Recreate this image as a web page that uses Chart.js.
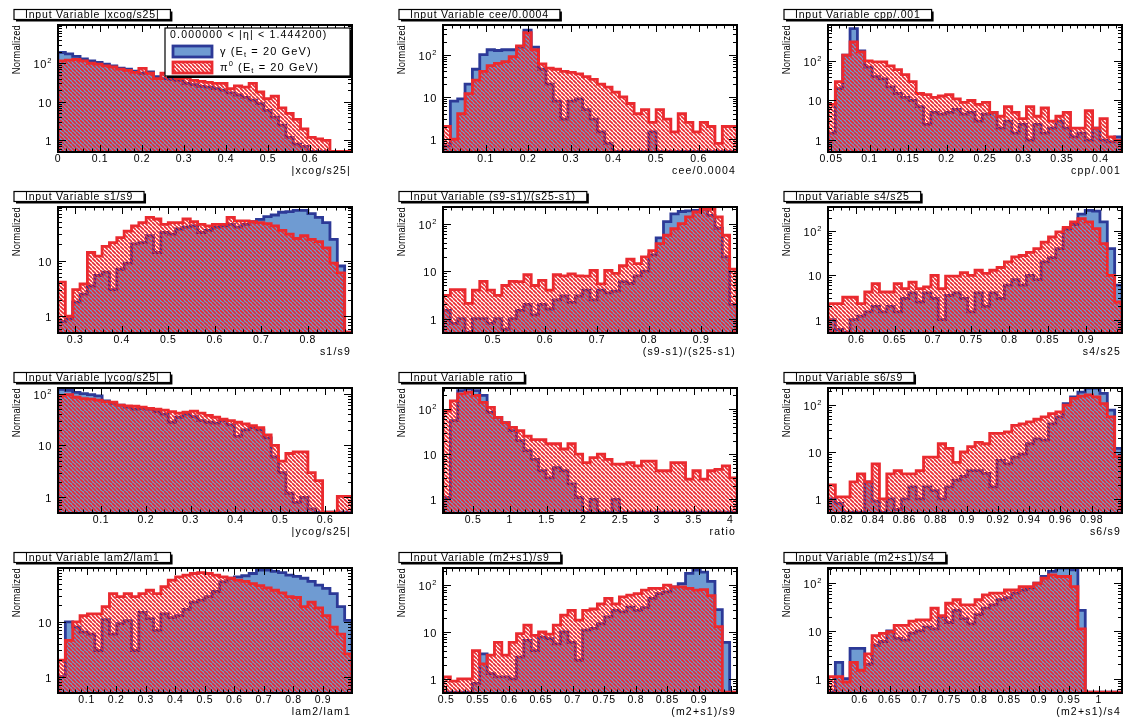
<!DOCTYPE html>
<html>
<head>
<meta charset="utf-8">
<script src="https://cdn.jsdelivr.net/npm/chart.js@4.4.0/dist/chart.umd.min.js"></script>
<style>
  html, body { margin: 0; padding: 0; background: #ffffff; }
  body { width: 1126px; height: 719px; position: relative; overflow: hidden; }
  canvas { position: absolute; }
</style>
</head>
<body>
<script>
// ---------------------------------------------------------------------------
// Input-variable distributions, photon (γ) vs neutral pion (π0), 40 bins each.
// Every histogram: x range, major tick values, y range, γ bins, π0 bins.
// ---------------------------------------------------------------------------

// |xcog/s25|
const xcogRange = [0, 0.7];
const xcogTicks = [0, 0.1, 0.2, 0.3, 0.4, 0.5, 0.6];
const xcogY = [0.5, 980];
const xcogGamma = [190, 175, 150, 130, 115, 105, 95, 85, 75, 70, 62, 55, 60, 45, 40, 38, 36, 30, 28, 25, 24, 22, 20, 17, 15, 13, 11, 9, 6, 4, 2.5, 1.2, 0.8, 0.7, 0, 0, 0, 0, 0, 0];
const xcogPi0 = [115, 120, 125, 115, 100, 95, 85, 80, 70, 65, 58, 74, 55, 40, 55, 48, 40, 42, 36, 34, 32, 30, 30, 22, 26, 24, 30, 18, 12, 14, 7, 5, 3.5, 2, 1.2, 1.1, 1.0, 0, 0, 0];

// cee/0.0004
const ceeRange = [0, 0.69];
const ceeTicks = [0.1, 0.2, 0.3, 0.4, 0.5, 0.6];
const ceeY = [0.5, 500];
const ceeGamma = [0.7, 8, 9, 20, 45, 100, 130, 125, 130, 130, 150, 380, 150, 45, 20, 8, 3, 8, 9, 5, 3, 1.5, 0.8, 0, 0, 0, 0, 0, 1.5, 0, 0, 0, 0, 0, 0, 0, 0, 0, 0, 0];
const ceePi0 = [2, 1, 4, 12, 25, 40, 55, 62, 68, 90, 160, 330, 130, 60, 48, 45, 40, 38, 35, 30, 26, 20, 17, 13, 10, 7, 4, 5, 2.5, 5, 3, 1.5, 4, 2.5, 1.5, 2.5, 2, 0.8, 2, 2];

// cpp/.001
const cppRange = [0.046, 0.428];
const cppTicks = [0.05, 0.1, 0.15, 0.2, 0.25, 0.3, 0.35, 0.4];
const cppY = [0.5, 807];
const cppGamma = [1.5, 20, 140, 650, 180, 70, 40, 35, 22, 15, 12, 10, 7, 2.5, 5, 4.5, 5, 6, 4.5, 5, 3, 4.5, 5, 2, 3, 1.5, 2.5, 1, 2.5, 1.5, 2, 3, 2, 1.2, 1.5, 1, 2, 1, 0.9, 1.2];
const cppPi0 = [8, 30, 140, 300, 170, 100, 95, 95, 75, 60, 45, 30, 15, 14, 12, 13, 14, 11, 9, 10, 8, 9, 5, 4, 7, 5, 3.5, 7, 4, 6.5, 3, 4, 5, 2, 2, 5.5, 2, 3.5, 1.2, 1];

// s1/s9
const s1s9Range = [0.263, 0.895];
const s1s9Ticks = [0.3, 0.4, 0.5, 0.6, 0.7, 0.8];
const s1s9Y = [0.5, 92];
const s1s9Gamma = [0.8, 0.9, 1.8, 2.5, 3.5, 5.4, 6.2, 3, 7, 9, 20, 21, 28, 14, 32, 30, 37, 40, 42, 32, 35, 40, 42, 45, 40, 45, 50, 55, 62, 66, 74, 76, 80, 80, 70, 60, 48, 24, 8, 0];
const s1s9Pi0 = [4.1, 1.0, 3.0, 3.8, 14, 12, 18, 21, 26, 34, 42, 48, 60, 56, 45, 48, 48, 56, 50, 45, 42, 45, 45, 60, 52, 52, 50, 48, 46, 42, 35, 30, 25, 28, 24, 22, 17, 9, 6, 0];

// (s9-s1)/(s25-s1)
const s9s25Range = [0.404, 0.969];
const s9s25Ticks = [0.5, 0.6, 0.7, 0.8, 0.9];
const s9s25Y = [0.5, 224];
const s9s25Gamma = [1.5, 0.8, 1, 0, 1, 1, 0.8, 1, 0.6, 1, 1.5, 2, 1.2, 2, 1.6, 2.5, 3, 2.2, 3, 4, 2.5, 4, 3.5, 3.8, 6, 5.5, 8, 10, 22, 50, 110, 160, 180, 185, 190, 200, 150, 80, 20, 2];
const s9s25Pi0 = [3.1, 4.1, 4.1, 2.1, 4, 6.1, 4, 3.1, 5, 6.1, 6, 8.4, 5, 6.4, 4, 8.4, 8, 8.8, 8, 7.9, 10.4, 5.4, 10.4, 9, 13, 18, 14.4, 20, 27, 38, 57, 78, 100, 138, 176, 200, 200, 138, 57, 11];

// s4/s25
const s4s25Range = [0.563, 0.947];
const s4s25Ticks = [0.6, 0.65, 0.7, 0.75, 0.8, 0.85, 0.9];
const s4s25Y = [0.5, 347];
const s4s25Gamma = [1, 0.6, 0, 1, 1.2, 1.5, 2, 1.5, 2, 1.5, 3, 4, 2.5, 4, 3, 1, 3.5, 4, 3, 1.5, 4, 2, 4, 3, 6, 8, 6, 10, 8, 20, 25, 40, 110, 140, 240, 290, 280, 160, 40, 6];
const s4s25Pi0 = [2.3, 2.3, 3.2, 3.2, 2.3, 4.2, 6.5, 4.2, 4.2, 6.5, 5, 7, 5, 5.5, 10, 5, 9.6, 9.6, 11.5, 10, 13, 11, 13, 15, 20, 26, 28, 33, 40, 56, 73, 95, 120, 160, 190, 160, 113, 52, 10, 2.5];

// |ycog/s25|
const ycogRange = [0.004, 0.66];
const ycogTicks = [0.1, 0.2, 0.3, 0.4, 0.5, 0.6];
const ycogY = [0.5, 128];
const ycogGamma = [120, 115, 105, 100, 95, 90, 72, 65, 60, 55, 50, 52, 50, 45, 40, 28, 35, 40, 36, 30, 28, 27, 30, 25, 15, 20, 22, 20, 14, 6, 3, 1.2, 0.8, 1, 0.6, 0, 0, 0, 0, 0];
const ycogPi0 = [90, 95, 85, 80, 78, 75, 70, 68, 60, 58, 57, 55, 52, 50, 48, 45, 42, 44, 46, 42, 38, 35, 32, 30, 28, 26, 24, 22, 16, 10, 5, 7, 7.5, 7.5, 3, 2.1, 0, 0, 1.05, 1.05];

// ratio
const ratioRange = [0.09, 4.09];
const ratioTicks = [0.5, 1, 1.5, 2, 2.5, 3, 3.5, 4];
const ratioY = [0.5, 290];
const ratioGamma = [1.1, 55, 255, 280, 255, 200, 84, 65, 50, 33, 20, 12, 7.7, 4.3, 3, 5, 4.3, 2.2, 1.1, 0, 1, 0, 0, 1, 0, 0, 0, 0, 0, 0, 0, 0, 0, 0, 0, 0, 0, 0, 0, 0];
const ratioPi0 = [90, 150, 215, 235, 200, 140, 108, 65, 50, 39, 33, 25, 21, 21, 17, 17, 13, 17, 10, 6.5, 8.4, 10, 7.7, 6, 6, 6.5, 5.5, 7, 7, 4.3, 4.3, 6.5, 6.5, 2.8, 4.3, 2.8, 4.3, 4.6, 5.5, 3];

// s6/s9
const s6s9Range = [0.811, 0.9995];
const s6s9Ticks = [0.82, 0.84, 0.86, 0.88, 0.9, 0.92, 0.94, 0.96, 0.98];
const s6s9Y = [0.5, 232];
const s6s9Gamma = [1, 0.8, 0, 0, 0, 2.3, 0.9, 0, 1, 0.6, 1, 1.8, 1, 1.8, 1.5, 1, 1.8, 2.5, 3, 4, 4, 3.5, 1.8, 6.6, 5.6, 7.8, 9, 15, 19, 18, 40, 56, 108, 150, 190, 230, 230, 178, 78, 12];
const s6s9Pi0 = [2, 1.1, 1.1, 2.3, 3.4, 2.3, 5.6, 1, 3.4, 4, 3.4, 3.4, 4, 7.8, 7.8, 15, 12, 6, 10, 13, 16, 15, 25, 25, 27, 37, 40, 44, 50, 56, 66, 72, 100, 140, 155, 165, 150, 108, 56, 8];

// lam2/lam1
const lamRange = [0.003, 0.998];
const lamTicks = [0.1, 0.2, 0.3, 0.4, 0.5, 0.6, 0.7, 0.8, 0.9];
const lamY = [0.5, 97];
const lamGamma = [1, 10, 8, 6.5, 6, 3, 11, 6, 9.3, 10.5, 3, 15, 11.5, 7, 14, 12, 13, 17, 23, 25, 29, 36, 54, 63, 67, 70, 77, 89, 89, 84, 80, 72, 68, 63, 55, 47, 41, 33, 19, 10.7];
const lamPi0 = [2, 4.6, 10, 13, 14, 14, 19, 33, 29, 33, 29, 33, 38, 33, 44, 58, 67, 72, 77, 80, 77, 72, 67, 63, 58, 55, 50, 46, 42, 38, 34, 29, 28, 19, 23, 18, 13, 8, 6, 2.6];

// (m2+s1)/s9
const m2s9Range = [0.495, 0.96];
const m2s9Ticks = [0.5, 0.55, 0.6, 0.65, 0.7, 0.75, 0.8, 0.85, 0.9];
const m2s9Y = [0.5, 232];
const m2s9Gamma = [0, 0, 0, 0, 0.8, 3.4, 1.3, 1.1, 1.1, 1, 2.9, 6.6, 4, 7.8, 7.2, 5.6, 10, 6, 2.5, 11, 12, 15, 21, 29, 27, 34, 29, 33, 52, 66, 72, 92, 108, 178, 210, 190, 120, 30, 6, 0];
const m2s9Pi0 = [1.1, 0.9, 1, 1, 4, 2.1, 3.2, 6, 3.2, 6, 9.2, 14, 8.5, 10, 9, 14, 23, 29, 18, 29, 31, 40, 52, 40, 56, 61, 66, 78, 85, 85, 100, 92, 92, 85, 78, 80, 60, 13, 0, 0];

// (m2+s1)/s4
const m2s4Range = [0.547, 1.039];
const m2s4Ticks = [0.6, 0.65, 0.7, 0.75, 0.8, 0.85, 0.9, 0.95, 1];
const m2s4Y = [0.5, 208];
const m2s4Gamma = [0, 2.2, 1, 4.3, 4.3, 2, 5, 6, 10, 7, 6.4, 9, 10, 12, 11, 20, 15, 27, 18, 14, 22, 30, 35, 45, 50, 62, 72, 80, 100, 138, 176, 207, 207, 190, 27, 0, 0, 0, 0, 0];
const m2s4Pi0 = [1.1, 1.1, 0.85, 2.2, 1.5, 3.3, 8, 8.9, 9.6, 13, 13, 16, 17, 17, 30, 21, 38, 45, 35, 35, 45, 57, 62, 62, 72, 72, 85, 85, 100, 127, 150, 138, 138, 85, 11, 0, 0, 0, 0, 0];

// ---------------------------------------------------------------------------
// Panel list, built from the arrays above (row-major, 3 columns x 4 rows)
// ---------------------------------------------------------------------------
const panels = [
  { name: '|xcog/s25|',        range: xcogRange,  ticks: xcogTicks,  y: xcogY,  gamma: xcogGamma,  pi0: xcogPi0 },
  { name: 'cee/0.0004',        range: ceeRange,   ticks: ceeTicks,   y: ceeY,   gamma: ceeGamma,   pi0: ceePi0 },
  { name: 'cpp/.001',          range: cppRange,   ticks: cppTicks,   y: cppY,   gamma: cppGamma,   pi0: cppPi0 },
  { name: 's1/s9',             range: s1s9Range,  ticks: s1s9Ticks,  y: s1s9Y,  gamma: s1s9Gamma,  pi0: s1s9Pi0 },
  { name: '(s9-s1)/(s25-s1)',  range: s9s25Range, ticks: s9s25Ticks, y: s9s25Y, gamma: s9s25Gamma, pi0: s9s25Pi0 },
  { name: 's4/s25',            range: s4s25Range, ticks: s4s25Ticks, y: s4s25Y, gamma: s4s25Gamma, pi0: s4s25Pi0 },
  { name: '|ycog/s25|',        range: ycogRange,  ticks: ycogTicks,  y: ycogY,  gamma: ycogGamma,  pi0: ycogPi0 },
  { name: 'ratio',             range: ratioRange, ticks: ratioTicks, y: ratioY, gamma: ratioGamma, pi0: ratioPi0 },
  { name: 's6/s9',             range: s6s9Range,  ticks: s6s9Ticks,  y: s6s9Y,  gamma: s6s9Gamma,  pi0: s6s9Pi0 },
  { name: 'lam2/lam1',         range: lamRange,   ticks: lamTicks,   y: lamY,   gamma: lamGamma,   pi0: lamPi0 },
  { name: '(m2+s1)/s9',        range: m2s9Range,  ticks: m2s9Ticks,  y: m2s9Y,  gamma: m2s9Gamma,  pi0: m2s9Pi0 },
  { name: '(m2+s1)/s4',        range: m2s4Range,  ticks: m2s4Ticks,  y: m2s4Y,  gamma: m2s4Gamma,  pi0: m2s4Pi0 }
];

// ---------------------------------------------------------------------------
// Layout and style
// ---------------------------------------------------------------------------
const PLOT_LEFT = [58, 443, 828];
const PLOT_TOP = [25, 207, 388, 568];
const PLOT_W = 294;
const PLOT_H = [127, 126, 125, 125];
const PAD = { left: 58, top: 25, right: 8, bottom: 30 };

const FAMILY = '"Liberation Sans", Arial, Helvetica, sans-serif';
const font = px => px + 'px ' + FAMILY;

const BLUE_FILL = '#6f9bd2';
const BLUE_LINE = '#2c3997';
const RED = '#ea2a2f';

function makeHatch(color) {
  const s = 4;
  const c = document.createElement('canvas');
  c.width = s; c.height = s;
  const g = c.getContext('2d');
  g.strokeStyle = color;
  g.lineWidth = 1.7;
  g.beginPath();
  for (let k = -1; k <= 1; k++) { g.moveTo(k * s, 0); g.lineTo(k * s + s, s); }
  g.stroke();
  return g.createPattern(c, 'repeat');
}
const HATCH = makeHatch(RED);

// Histogram outline: a flat segment over every bin, joined by verticals.
// Empty bins sit on the lower edge of the axis, as the outline runs along it.
function stepPoints(values, range, floor) {
  const n = values.length;
  const edge = i => (i >= n ? range[1] : range[0] + (range[1] - range[0]) * i / n);
  const pts = [{ x: range[0], y: floor }];
  values.forEach((v, i) => {
    const y = Math.max(v, floor);
    pts.push({ x: edge(i), y });
    pts.push({ x: edge(i + 1), y });
  });
  pts.push({ x: range[1], y: floor });
  return pts;
}

function spaced(ctx, spacing) {
  if ('letterSpacing' in ctx) ctx.letterSpacing = spacing + 'px';
}

function boxWithShadow(ctx, x, y, w, h) {
  ctx.fillStyle = '#000';
  ctx.fillRect(x + 2, y + 2, w, h);
  ctx.fillStyle = '#fff';
  ctx.fillRect(x, y, w, h);
  ctx.strokeStyle = '#000';
  ctx.lineWidth = 1.2;
  ctx.strokeRect(x, y, w, h);
}

function decorPlugin(panel, index) {
  return {
    id: 'decor' + index,
    afterDatasetsDraw(chart) {
      const ctx = chart.ctx;
      const ca = chart.chartArea;
      const xs = chart.scales.x;
      const ys = chart.scales.y;
      ctx.save();

      // frame
      ctx.strokeStyle = '#000';
      ctx.lineWidth = 2;
      ctx.strokeRect(ca.left, ca.top, ca.right - ca.left, ca.bottom - ca.top);

      // y ticks (log): decades and 2..9 sub-ticks, on both sides
      ctx.lineWidth = 1;
      ctx.beginPath();
      const [ymin, ymax] = panel.y;
      const decades = [];
      for (let e = Math.floor(Math.log10(ymin)); e <= Math.ceil(Math.log10(ymax)); e++) {
        for (let m = 1; m <= 9; m++) {
          const v = m * Math.pow(10, e);
          if (v <= ymin || v >= ymax) continue;
          const py = Math.round(ys.getPixelForValue(v)) + 0.5;
          const len = m === 1 ? 8 : 4;
          ctx.moveTo(ca.left, py); ctx.lineTo(ca.left + len, py);
          ctx.moveTo(ca.right, py); ctx.lineTo(ca.right - len, py);
          if (m === 1) decades.push([v, e, py]);
        }
      }
      // x ticks: majors at the labelled values, five sub-divisions between them
      const step = panel.ticks[1] - panel.ticks[0];
      const sub = step / 5;
      const start = panel.ticks[0] - Math.floor((panel.ticks[0] - panel.range[0]) / sub) * sub;
      for (let v = start; v <= panel.range[1] + 1e-9; v += sub) {
        const k = Math.round((v - panel.ticks[0]) / sub);
        const major = k % 5 === 0;
        const px = Math.round(xs.getPixelForValue(v)) + 0.5;
        const len = major ? 7 : 3.5;
        ctx.moveTo(px, ca.bottom); ctx.lineTo(px, ca.bottom - len);
        ctx.moveTo(px, ca.top); ctx.lineTo(px, ca.top + len);
      }
      ctx.stroke();

      ctx.fillStyle = '#000';
      // y labels
      decades.forEach(([v, e, py]) => {
        const xr = ca.left - 6;
        ctx.textBaseline = 'middle';
        spaced(ctx, 0.7);
        if (e < 2) {
          ctx.font = font(11);
          ctx.textAlign = 'right';
          ctx.fillText(String(v), xr, py + 1);
        } else {
          ctx.font = font(7.5);
          ctx.textAlign = 'right';
          ctx.fillText(String(e), xr, py - 3);
          const sw = ctx.measureText(String(e)).width;
          ctx.font = font(11);
          ctx.fillText('10', xr - sw, py + 1);
        }
      });

      // x labels
      ctx.font = font(10.5);
      spaced(ctx, 0.7);
      ctx.textAlign = 'center';
      ctx.textBaseline = 'middle';
      panel.ticks.forEach(v => {
        ctx.fillText(String(v), xs.getPixelForValue(v), ca.bottom + 7);
      });

      // x title
      ctx.font = font(10.5);
      spaced(ctx, 1.2);
      ctx.textAlign = 'right';
      ctx.fillText(panel.name, ca.right - 1, ca.bottom + 19);

      // y title (tall, narrow lettering)
      ctx.save();
      ctx.translate(ca.left - 41, ca.top);
      ctx.rotate(-Math.PI / 2);
      ctx.scale(0.82, 1);
      ctx.font = font(11.5);
      spaced(ctx, 0.2);
      ctx.textAlign = 'right';
      ctx.textBaseline = 'middle';
      ctx.fillText('Normalized', 0, 0);
      ctx.restore();

      // title box
      const title = 'Input Variable ' + panel.name;
      ctx.font = font(10.5);
      spaced(ctx, 0.8);
      const tw = ctx.measureText(title).width;
      const bx = ca.left - 44, by = ca.top - 15.5;
      boxWithShadow(ctx, bx, by, tw + 22, 10);
      ctx.fillStyle = '#000';
      ctx.textAlign = 'left';
      ctx.textBaseline = 'middle';
      ctx.fillText(title, bx + 11, by + 5.5);

      if (index === 0) drawLegend(ctx, ca);
      ctx.restore();
    }
  };
}

function drawSub(ctx, parts, x, y) {
  // parts: [text, kind] with kind '' | 'sub' | 'sup'
  parts.forEach(([t, kind]) => {
    if (kind) {
      ctx.font = font(7.5);
      ctx.fillText(t, x, y + (kind === 'sub' ? 3 : -4));
    } else {
      ctx.font = font(11);
      ctx.fillText(t, x, y);
    }
    x += ctx.measureText(t).width;
  });
}

function drawLegend(ctx, ca) {
  const lx = ca.left + 107, ly = ca.top + 3, lw = ca.right - 2 - lx, lh = 48;
  boxWithShadow(ctx, lx, ly, lw, lh);
  ctx.fillStyle = '#000';
  ctx.textAlign = 'left';
  ctx.textBaseline = 'middle';
  ctx.font = font(10.5);
  spaced(ctx, 1.2);
  ctx.fillText('0.000000 < |\u03b7| < 1.444200)', lx + 5, ly + 7);

  // γ swatch
  ctx.fillStyle = BLUE_FILL;
  ctx.fillRect(lx + 8, ly + 18, 39, 11);
  ctx.strokeStyle = BLUE_LINE;
  ctx.lineWidth = 2.8;
  ctx.strokeRect(lx + 8, ly + 18, 39, 11);
  // π0 swatch
  ctx.fillStyle = '#fff';
  ctx.fillRect(lx + 8, ly + 34, 39, 11);
  ctx.fillStyle = HATCH;
  ctx.fillRect(lx + 8, ly + 34, 39, 11);
  ctx.strokeStyle = RED;
  ctx.strokeRect(lx + 8, ly + 34, 39, 11);

  ctx.fillStyle = '#000';
  spaced(ctx, 1.1);
  drawSub(ctx, [['\u03b3 (E', ''], ['t', 'sub'], [' = 20 GeV)', '']], lx + 55, ly + 23.5);
  drawSub(ctx, [['\u03c0', ''], ['0', 'sup'], [' (E', ''], ['t', 'sub'], [' = 20 GeV)', '']], lx + 55, ly + 39.5);
}

// ---------------------------------------------------------------------------
// Build the twelve charts
// ---------------------------------------------------------------------------
panels.forEach((p, i) => {
  const col = i % 3, row = Math.floor(i / 3);
  const canvas = document.createElement('canvas');
  const w = PAD.left + PLOT_W + PAD.right;
  const h = PAD.top + PLOT_H[row] + PAD.bottom;
  canvas.width = w; canvas.height = h;
  canvas.style.width = w + 'px'; canvas.style.height = h + 'px';
  canvas.style.left = (PLOT_LEFT[col] - PAD.left) + 'px';
  canvas.style.top = (PLOT_TOP[row] - PAD.top) + 'px';
  document.body.appendChild(canvas);

  // empty bins are drawn just above the lower edge so their outline shows
  const floor = p.y[0] * 1.04;
  new Chart(canvas, {
    type: 'line',
    data: {
      datasets: [
        {
          label: '\u03c0\u2070 (E\u209c = 20 GeV)',
          data: stepPoints(p.pi0, p.range, floor),
          borderColor: RED,
          backgroundColor: HATCH,
          borderWidth: 2.8,
          fill: 'start',
          pointRadius: 0,
          tension: 0,
          order: 0,
          clip: 0
        },
        {
          label: '\u03b3 (E\u209c = 20 GeV)',
          data: stepPoints(p.gamma, p.range, floor),
          borderColor: BLUE_LINE,
          backgroundColor: BLUE_FILL,
          borderWidth: 2.8,
          fill: 'start',
          pointRadius: 0,
          tension: 0,
          order: 1,
          clip: 0
        }
      ]
    },
    options: {
      responsive: false,
      animation: false,
      devicePixelRatio: 1,
      layout: { padding: PAD },
      plugins: { legend: { display: false }, tooltip: { enabled: false } },
      scales: {
        x: { type: 'linear', bounds: 'data', min: p.range[0], max: p.range[1], display: false },
        y: { type: 'logarithmic', min: p.y[0], max: p.y[1], display: false }
      }
    },
    plugins: [decorPlugin(p, i)]
  });
});
</script>
</body>
</html>
